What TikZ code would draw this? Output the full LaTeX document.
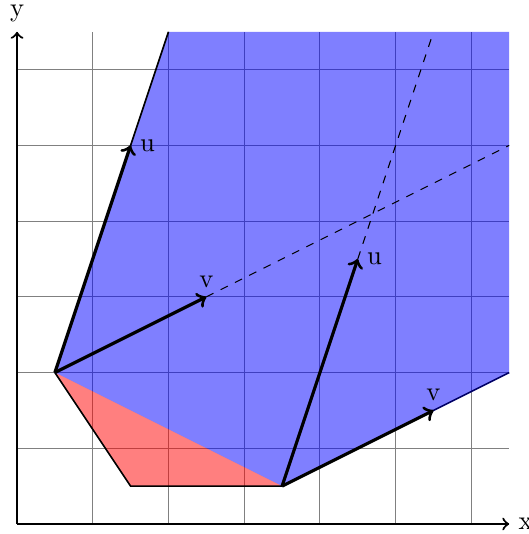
\documentclass[tikz,border=0pt]{standalone}
\begin{document}
\begin{tikzpicture}[declare function={h=6.5;}]
        \useasboundingbox (-0.225,-0.132) rectangle (6.75,6.92);
        \coordinate (O) at (0,0);
        \coordinate (A) at (0.5,2);
        \coordinate (B) at (1.5,0.5);
        \coordinate (C) at (3.5,0.5);
        \coordinate (D) at (2,h);
        \coordinate (E) at (h,h);
        \coordinate (F) at (h,2);
        \coordinate (U1) at (1.5,5);
        \coordinate (V1) at (2.5,3);
        \coordinate (U2) at (4.5,3.5);
        \coordinate (V2) at (5.5,1.5);
        \coordinate (P) at (h,5);
        \coordinate (Q) at (5.5,h);
        \coordinate (X) at (h,0);
        \coordinate (Y) at (0,h);
        \draw[gray] (O) grid (E);
        \fill[blue, opacity=0.5] (A) -- (D) -- (E) -- (F) -- (C) -- cycle;
        \fill[red, opacity=0.5] (A) -- (B) -- (C) -- cycle;
        \draw[semithick] (A) -- (D);
        \draw[semithick] (A) -- (B) -- (C);
        \draw[semithick, blue!40!black] (C) -- (F);
        \draw[dashed] (V1) -- (P);
        \draw[dashed] (U2) -- (Q);
        \draw[very thick,->] (A) -- (U1);
        \draw[very thick,->] (A) -- (V1);
        \draw[very thick,->] (C) -- (U2);
        \draw[very thick,->] (C) -- (V2);
        \node[anchor = west] (u1) at (U1) {u};
        \node[anchor = south] (v1) at (V1) {v};
        \node[anchor = west] (u2) at (U2) {u};
        \node[anchor = south] (v2) at (V2) {v};
        \draw[thick,->] (O) -- (X);
        \draw[thick,->] (O) -- (Y);
        \node[anchor = west] (x) at (X) {x};
        \node[anchor = south] (y) at (Y) {y};
    \end{tikzpicture}
\end{document}
